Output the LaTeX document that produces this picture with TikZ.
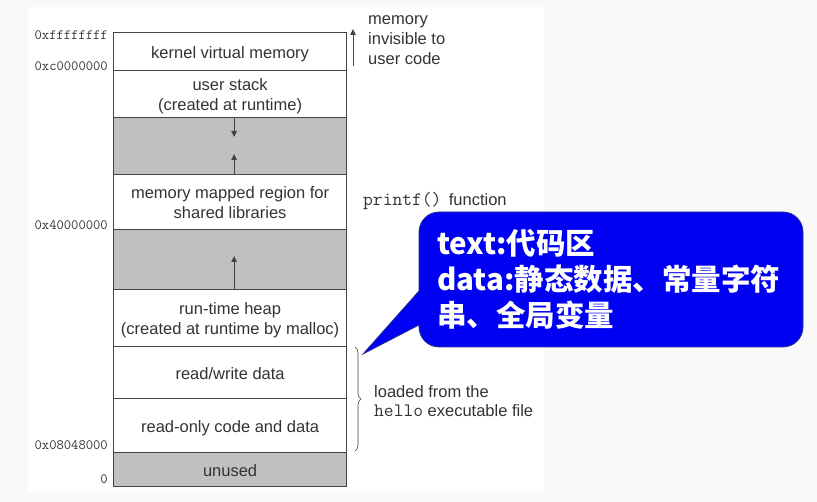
\documentclass[tikz,border=0pt]{standalone}
\usepackage{fontspec}
\setmainfont{Liberation Sans}
\newfontfamily\cjk{Noto Sans CJK SC}
\usetikzlibrary{arrows.meta,decorations.pathreplacing}
\definecolor{txt}{HTML}{333333}
\definecolor{edge}{HTML}{444444}
\definecolor{gapgray}{HTML}{C0C0C0}
\definecolor{pagebg}{HTML}{F9F9F9}
\definecolor{callblue}{HTML}{0000F2}
\definecolor{callborder}{HTML}{28348A}
\newcommand{\codefont}{\ttfamily\fontsize{19}{20}\selectfont}
\newcommand{\segtext}[1]{\raisebox{-2.5pt}[\height][\depth]{\begin{tabular}{@{}c@{}}#1\end{tabular}}}
\tikzset{
  x=1pt, y=-1pt,
  seg/.style={draw=edge, line width=1.2pt, fill=white, minimum width=233pt, inner sep=0pt,
    anchor=north west, align=center, text=txt, font=\fontsize{16.5}{20}\selectfont},
  gapseg/.style={seg, fill=gapgray},
  addr/.style={anchor=east, inner sep=0pt, text=txt, font=\ttfamily\fontsize{14.2}{15}\selectfont},
  note/.style={anchor=west, inner sep=0pt, text=txt, align=left, font=\fontsize{16.5}{20}\selectfont},
  growarrow/.style={draw=edge, line width=0.9pt, -{Triangle[length=6pt,width=5.5pt]}},
  calltext/.style={anchor=base west, inner sep=0pt, text=white, font=\cjk\bfseries\fontsize{29.5}{36}\selectfont},
}
\begin{document}
\begin{tikzpicture}
\useasboundingbox (0,0) rectangle (817,502);
\fill[pagebg] (0,0) rectangle (817,502);
\fill[white] (28,7) rectangle (544,491);

% memory segments
\node[seg, minimum height=38pt] (kernel) at (113,32) {\segtext{kernel virtual memory}};
\node[seg, minimum height=47pt] (stack) at (113,70) {\segtext{user stack\\(created at runtime)}};
\node[gapseg, minimum height=57pt] (gapa) at (113,117) {};
\node[seg, minimum height=55pt] (mmap) at (113,174) {\segtext{memory mapped region for\\shared libraries}};
\node[gapseg, minimum height=60pt] (gapb) at (113,229) {};
\node[seg, minimum height=57pt] (heap) at (113,289) {\segtext{run-time heap\\(created at runtime by malloc)}};
\node[seg, minimum height=52pt] (rw) at (113,346) {\segtext{read/write data}};
\node[seg, minimum height=54pt] (ro) at (113,398) {\segtext{read-only code and data}};
\node[gapseg, minimum height=34pt] (unused) at (113,452) {\segtext{unused}};

% growth arrows
\coordinate (stackend) at ([xshift=4pt]gapa.north |- 0,137);
\coordinate (mmapend) at ([xshift=4pt]gapa.south |- 0,154);
\coordinate (heapend) at ([xshift=4pt]gapb.south |- 0,256);
\draw[growarrow] ([xshift=4pt]gapa.north) -- (stackend);
\draw[growarrow] ([xshift=4pt]gapa.south) -- (mmapend);
\draw[growarrow] ([xshift=4pt]gapb.south) -- (heapend);

% addresses
\node[addr] (affff) at (108,35) {0xffffffff};
\node[addr] (ac000) at (108,66) {0xc0000000};
\node[addr] (a4000) at (108,225) {0x40000000};
\node[addr] (a0804) at (108,445) {0x08048000};
\node[addr] (azero) at (108,479) {0};

% kernel note
\coordinate (kbot) at (353,66);
\coordinate (ktop) at (353,29);
\draw[growarrow] (kbot) -- (ktop);
\node[note, anchor=north west] (invis) at (368,15) {memory\\invisible to\\user code};

% printf note
\node[note] (printf) at (363,201) {{\codefont printf()}\, function};

% brace
\coordinate (btop) at (355,347);
\coordinate (bbot) at (355,451);
\draw[draw=edge, line width=0.6pt, decorate, decoration={brace, amplitude=6pt}] (btop) -- (bbot);
\node[note] (loaded1) at (374,392) {loaded from the};
\node[note] (loaded2) at (374,411) {{\codefont hello} executable file};

% callout
\coordinate (tip) at (363,354);
\path[fill=callblue, draw=callborder, line width=0.8pt]
  (419,291) -- (tip) -- (419,325)
  {[rounded corners=20pt] -- (419,347) -- (803,347) -- (803,212) -- (419,212)} -- cycle;
\node[calltext] (cl1) at (437,255) {text:代码区};
\node[calltext] (cl2) at (437,291) {data:静态数据、常量字符};
\node[calltext] (cl3) at (437,327) {串、全局变量};
\end{tikzpicture}
\end{document}
